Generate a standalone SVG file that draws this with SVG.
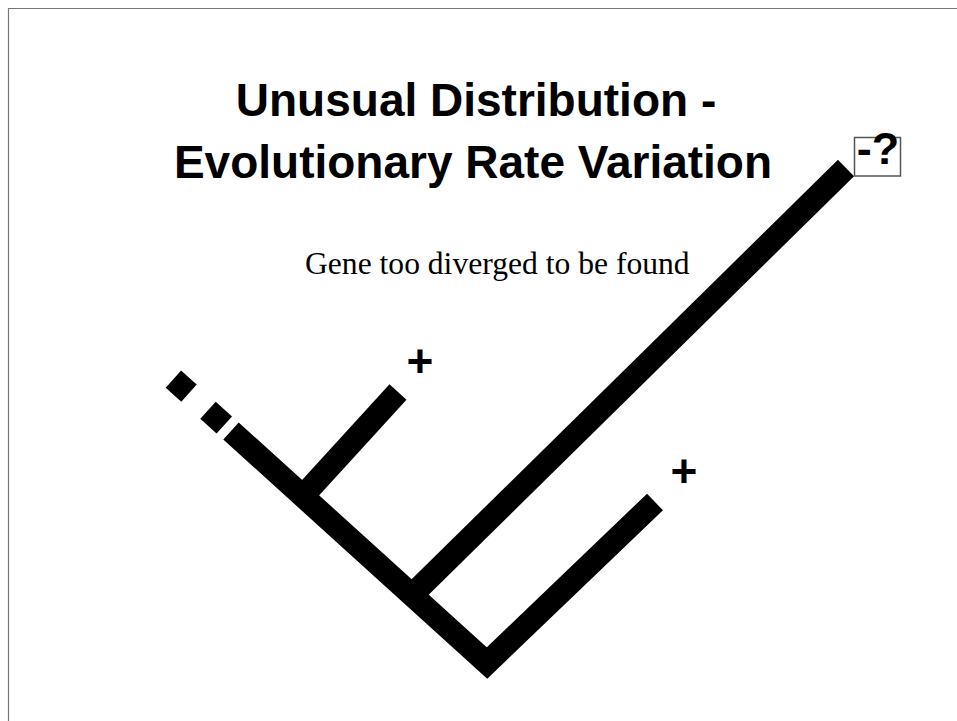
<svg xmlns="http://www.w3.org/2000/svg" width="957" height="721" viewBox="0 0 957 721">
<style>
.title{font-family:"Liberation Sans",Arial,sans-serif;font-weight:bold;font-size:46px;fill:#000;text-anchor:middle}
.sub{font-family:"Liberation Serif","Times New Roman",serif;font-size:31.6px;fill:#000}
.sign{font-family:"Liberation Sans",Arial,sans-serif;font-weight:bold;font-size:46px;fill:#000;text-anchor:middle}
.br{stroke:#000;stroke-width:23;fill:none;stroke-linecap:butt;stroke-linejoin:miter}
.frame{stroke:#777;stroke-width:1.2;fill:none}
</style>
<rect width="957" height="721" fill="#fff"/>
<g id="frame">
<line class="frame" x1="8.5" y1="8" x2="8.5" y2="721"/>
<line class="frame" x1="8" y1="8.5" x2="957" y2="8.5"/>
</g>
<g id="title">
<text class="title" x="476" y="116">Unusual Distribution -</text>
<text class="title" x="473" y="178">Evolutionary Rate Variation</text>
</g>
<g id="subtitle">
<text class="sub" x="305" y="274">Gene too diverged to be found</text>
</g>
<g id="connectors">
<line class="br" x1="173.4" y1="379.1" x2="189" y2="393.1"/>
<line class="br" x1="208" y1="410.2" x2="224.3" y2="425"/>
<polyline class="br" points="231,431 487,663 655,502"/>
<line class="br" x1="303" y1="496" x2="398" y2="392"/>
<line class="br" x1="413" y1="594" x2="846" y2="168"/>
</g>
<g id="leaf-plus-1">
<text class="sign" x="420" y="377">+</text>
</g>
<g id="leaf-plus-2">
<text class="sign" x="684" y="487">+</text>
</g>
<g id="leaf-unknown">
<rect x="854.5" y="137.5" width="46" height="38.5" fill="none" stroke="#555" stroke-width="1.5"/>
<text class="sign" x="878" y="164" style="font-size:45px">-?</text>
</g>
</svg>
